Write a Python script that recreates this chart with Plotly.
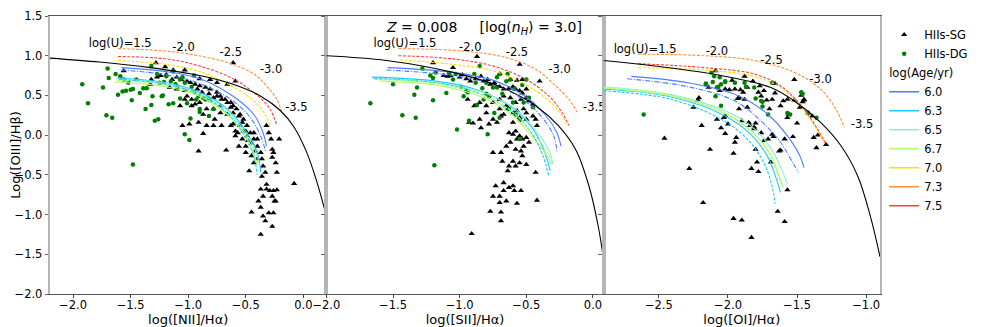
import plotly.graph_objects as go
from plotly.subplots import make_subplots

##################
### data

# panel axes
xTitles = ["log([NII]/Hα)", "log([SII]/Hα)", "log([OI]/Hα)"]
xRanges = [[-2.2, 0.2], [-2.0, 0.08], [-2.9, -0.9]]
yRange = [-2.0, 1.5]

# legend entries
ages = ["6.0", "6.3", "6.5", "6.7", "7.0", "7.3", "7.5"]
uLabels = ["log(U)=1.5", "-2.0", "-2.5", "-3.0", "-3.5"]

# ionisation parameter label positions
uNII_x = [-1.59, -1.04, -0.63, -0.28, -0.06]
uNII_y = [1.15, 1.10, 1.03, 0.82, 0.34]
uSII_x = [-1.41, -0.92, -0.57, -0.25, 0.01]
uSII_y = [1.15, 1.10, 1.03, 0.82, 0.34]
uOI_x = [-2.60, -2.08, -1.685, -1.33, -1.03]
uOI_y = [1.07, 1.04, 0.93, 0.69, 0.13]

# maximum starburst lines
kewNII_x = [-2.2, -1.77, -1.33, -0.90, -0.61, -0.37, -0.20, -0.08, 0.03, 0.12, 0.2]
kewNII_y = [0.97, 0.92, 0.85, 0.75, 0.64, 0.49, 0.31, 0.10, -0.22, -0.60, -1.02]
kewSII_x = [-2.0, -1.55, -1.05, -0.68, -0.43, -0.26, -0.13, -0.03, 0.04, 0.08]
kewSII_y = [1.0, 0.94, 0.79, 0.60, 0.37, 0.12, -0.18, -0.64, -1.15, -1.57]
kewOI_x = [-2.9, -2.53, -2.05, -1.69, -1.52, -1.33, -1.18, -1.06, -0.97, -0.9]
kewOI_y = [0.94, 0.87, 0.75, 0.60, 0.43, 0.16, -0.14, -0.52, -1.02, -1.53]

# model tracks (solid) per age
trkNII_solid = {
    "6.0": ([-1.58, -1.19, -0.90, -0.61, -0.43, -0.35, -0.32], [0.85, 0.80, 0.71, 0.49, 0.26, 0.03, -0.14]),
    "6.3": ([-1.62, -1.19, -0.90, -0.66, -0.49, -0.40, -0.37], [0.72, 0.66, 0.54, 0.33, 0.03, -0.22, -0.47]),
    "6.5": ([-1.61, -1.19, -0.90, -0.66, -0.50, -0.41, -0.38], [0.70, 0.65, 0.52, 0.31, 0.02, -0.22, -0.40]),
    "6.7": ([-1.64, -1.19, -0.90, -0.66, -0.50, -0.43, -0.40], [0.67, 0.61, 0.49, 0.26, -0.01, -0.22, -0.37]),
}
# model tracks (dashed) per age
trkNII_dash = {
    "6.0": ([-1.58, -1.19, -0.90, -0.61, -0.45, -0.36, -0.33], [0.82, 0.76, 0.65, 0.43, 0.20, -0.05, -0.20]),
    "6.3": ([-1.60, -1.19, -0.90, -0.67, -0.51, -0.43, -0.40], [0.70, 0.64, 0.51, 0.29, -0.01, -0.27, -0.50]),
    "6.7": ([-1.62, -1.19, -0.90, -0.67, -0.51, -0.44, -0.41], [0.69, 0.63, 0.50, 0.28, 0.00, -0.20, -0.35]),
    "7.0": ([-1.61, -1.19, -0.90, -0.61, -0.43, -0.33, -0.29], [0.94, 0.89, 0.80, 0.61, 0.43, 0.26, 0.11]),
    "7.3": ([-1.61, -1.13, -0.78, -0.61, -0.43, -0.32, -0.23, -0.19], [1.09, 1.05, 0.96, 0.89, 0.77, 0.62, 0.45, 0.30]),
    "7.5": ([-1.61, -1.19, -0.90, -0.61, -0.40, -0.29, -0.23], [0.99, 0.96, 0.87, 0.71, 0.50, 0.33, 0.12]),
}
trkSII_solid = {
    "6.0": ([-1.54, -1.05, -0.73, -0.51, -0.36, -0.27, -0.24], [0.85, 0.79, 0.68, 0.49, 0.26, 0.03, -0.14]),
    "6.3": ([-1.66, -1.18, -0.85, -0.61, -0.46, -0.37, -0.32], [0.73, 0.68, 0.56, 0.35, 0.10, -0.18, -0.45]),
    "6.5": ([-1.65, -1.18, -0.83, -0.58, -0.43, -0.33, -0.30], [0.71, 0.66, 0.54, 0.33, 0.06, -0.19, -0.37]),
    "6.7": ([-1.60, -1.18, -0.85, -0.61, -0.46, -0.36, -0.31], [0.68, 0.63, 0.49, 0.26, -0.01, -0.22, -0.37]),
}
trkSII_dash = {
    "6.0": ([-1.55, -1.05, -0.73, -0.51, -0.37, -0.29, -0.27], [0.82, 0.75, 0.63, 0.43, 0.20, -0.03, -0.22]),
    "6.3": ([-1.64, -1.18, -0.86, -0.62, -0.47, -0.38, -0.33], [0.71, 0.66, 0.53, 0.31, 0.05, -0.24, -0.52]),
    "6.7": ([-1.58, -1.18, -0.84, -0.60, -0.45, -0.35, -0.31], [0.70, 0.65, 0.51, 0.29, 0.02, -0.19, -0.33]),
    "7.0": ([-1.45, -1.05, -0.75, -0.51, -0.33, -0.23, -0.19], [0.95, 0.89, 0.81, 0.64, 0.43, 0.24, 0.12]),
    "7.3": ([-1.46, -0.98, -0.66, -0.43, -0.28, -0.18, -0.12], [1.09, 1.06, 0.98, 0.83, 0.62, 0.45, 0.29]),
    "7.5": ([-1.46, -1.05, -0.75, -0.51, -0.33, -0.23, -0.18], [1.00, 0.96, 0.87, 0.71, 0.49, 0.28, 0.12]),
}
trkOI_solid = {
    "6.0": ([-2.70, -2.29, -1.93, -1.71, -1.57, -1.48, -1.45], [0.74, 0.66, 0.50, 0.26, -0.01, -0.26, -0.41]),
    "6.3": ([-2.90, -2.41, -2.03, -1.83, -1.71, -1.65, -1.62], [0.58, 0.48, 0.25, 0.00, -0.28, -0.55, -0.72]),
    "6.5": ([-2.90, -2.41, -2.00, -1.79, -1.67, -1.60, -1.57], [0.61, 0.51, 0.29, 0.05, -0.22, -0.48, -0.62]),
    "6.7": ([-2.90, -2.41, -2.02, -1.81, -1.69, -1.63, -1.60], [0.59, 0.49, 0.27, 0.02, -0.25, -0.52, -0.66]),
}
trkOI_dash = {
    "6.0": ([-2.73, -2.29, -1.95, -1.75, -1.62, -1.53, -1.49], [0.71, 0.61, 0.43, 0.16, -0.09, -0.35, -0.47]),
    "6.3": ([-2.90, -2.41, -2.05, -1.86, -1.74, -1.68, -1.66], [0.56, 0.45, 0.20, -0.05, -0.35, -0.65, -0.86]),
    "6.7": ([-2.90, -2.41, -2.02, -1.82, -1.70, -1.64, -1.61], [0.60, 0.50, 0.28, 0.03, -0.24, -0.50, -0.64]),
    "7.0": ([-2.65, -2.17, -1.81, -1.62, -1.47, -1.36, -1.30], [0.85, 0.82, 0.74, 0.60, 0.36, 0.08, -0.10]),
    "7.3": ([-2.65, -2.17, -1.81, -1.52, -1.33, -1.22, -1.16], [1.02, 1.00, 0.94, 0.79, 0.58, 0.33, 0.10]),
    "7.5": ([-2.65, -2.17, -1.81, -1.62, -1.47, -1.35, -1.29], [0.90, 0.85, 0.77, 0.62, 0.37, 0.07, -0.12]),
}

# HII regions in spiral galaxies (SG) and dwarf galaxies (DG)
sgNII_x = [-1.56, -1.28, -1.20, -1.13, -1.03, -0.61, -0.59, -1.32, -1.27, -1.24, -1.19, -1.14, -1.10, -1.06,
           -1.01, -0.98, -0.94, -0.90, -0.85, -0.81, -0.75, -0.72, -0.68, -0.63, -0.61, -0.58, -0.55, -0.52,
           -0.49, -0.46, -0.43, -0.40, -0.37, -0.36, -0.35, -0.33, -1.05, -0.99, -0.91, -0.87, -0.84, -0.78,
           -0.91, -0.67, -0.61, -0.57, -0.53, -0.50, -0.47, -0.45, -0.40, -0.32, -0.30, -0.28, -0.27, -0.26,
           -0.24, -0.23, -0.21, -0.36, -0.32, -0.37, -0.35, -0.32, -0.29, -0.27, -0.26, -0.24, -0.23, -0.30,
           -0.26, -0.35, -0.33, -0.37, -0.45, -0.39, -0.37, -0.27, -0.25, -0.08, -0.27, -0.45, -0.59, -0.66,
           -0.72, -0.78, -0.84, -0.94, -0.97, -1.03, -0.97, -0.87, -0.77, -0.71, -0.63, -0.50, -0.43, -0.59,
           -0.56, -1.33, -1.16, -1.10, -1.03, -0.92, -0.88, -0.82, -0.78, -0.75, -0.71, -0.66, -0.63, -0.56,
           -0.49, -0.42, -0.52, -0.48, -0.72, -0.61, -0.53, -0.90, -1.01, -1.07, -0.81, -0.75, -0.66, -0.90,
           -0.43, -0.40, -0.55, -0.50]
sgNII_y = [0.81, 0.91, 0.86, 0.82, 0.82, 0.91, 0.68, 0.70, 0.73, 0.75, 0.76, 0.70, 0.73, 0.70,
           0.68, 0.66, 0.64, 0.62, 0.60, 0.58, 0.54, 0.49, 0.45, 0.41, 0.37, 0.33, 0.26, 0.20,
           0.12, 0.03, -0.05, -0.14, -0.22, -0.30, -0.39, -0.47, 0.12, 0.14, 0.16, 0.02, 0.12, 0.12,
           -0.20, -0.19, 0.14, 0.03, -0.05, -0.14, -0.45, -0.26, -0.30, 0.12, 0.03, -0.05, -0.28, -0.22,
           -0.35, -0.47, -0.05, -0.52, -0.62, -0.68, -0.77, -0.68, -0.70, -0.77, -0.70, -0.83, -0.69, -0.98,
           -0.98, -1.02, -1.08, -0.91, -0.97, -0.83, -1.25, -1.15, -0.83, -0.61, -0.18, -0.10, 0.05, 0.26,
           0.28, 0.33, 0.33, 0.39, 0.45, 0.45, 0.37, 0.26, 0.20, 0.12, 0.12, -0.22, -0.35, -0.01,
           -0.14, 0.64, 0.60, 0.58, 0.56, 0.58, 0.54, 0.52, 0.47, 0.49, 0.45, 0.41, 0.35, 0.24,
           -0.01, -0.20, 0.05, -0.07, 0.37, 0.28, 0.16, 0.41, 0.49, 0.37, 0.70, 0.66, 0.64, 0.71,
           0.03, -0.05, 0.12, 0.05]
dgNII_x = [-1.92, -1.87, -1.70, -1.74, -1.69, -1.71, -1.66, -1.61, -1.63, -1.59, -1.56, -1.57, -1.54, -1.50,
           -1.52, -1.49, -1.48, -1.45, -1.42, -1.39, -1.37, -1.36, -1.32, -1.31, -1.29, -1.26, -1.25, -1.23,
           -1.22, -1.21, -1.19, -1.17, -1.15, -1.13, -1.11, -1.09, -1.07, -1.05, -1.03, -0.99, -0.98, -0.97,
           -0.95, -0.93, -0.91, -0.90, -0.87, -0.85, -0.83, -0.81, -1.48, -1.32, -1.27, -1.13, -1.07, -1.01,
           -0.78, -0.90, -0.82, -0.95, -1.03]
dgNII_y = [0.64, 0.40, 0.84, 0.60, 0.72, 0.25, 0.22, 0.51, 0.77, 0.74, 0.70, 0.55, 0.56, 0.57,
           0.66, 0.44, 0.58, 0.70, 0.53, 0.59, 0.33, 0.59, 0.38, 0.49, 0.18, 0.20, 0.66, 0.49,
           0.50, 0.67, 0.74, 0.39, 0.68, 0.40, 0.64, 0.61, 0.70, 0.73, 0.01, -0.06, 0.21, 0.61,
           0.54, 0.45, 0.49, 0.29, 0.47, 0.45, 0.46, 0.44, -0.37, 0.87, 0.77, 0.80, 0.46, 0.40,
           0.33, 0.33, 0.24, 0.75, 0.66]

sgSII_x = [-1.20, -1.05, -0.87, -0.55, -0.40, -1.12, -1.09, -1.07, -1.00, -0.98, -0.95, -0.92, -0.88, -0.84,
           -0.82, -0.79, -0.77, -0.74, -0.70, -0.67, -0.63, -0.60, -0.58, -0.55, -0.53, -0.50, -0.48, -0.54,
           -0.58, -0.62, -0.67, -0.70, -0.75, -0.80, -0.85, -0.89, -0.94, -0.93, -0.90, -0.84, -0.80, -0.75,
           -0.72, -0.69, -0.67, -0.64, -0.60, -0.57, -0.52, -0.50, -0.45, -0.42, -0.63, -0.60, -0.58, -0.55,
           -0.53, -0.50, -0.62, -0.58, -0.54, -0.65, -0.69, -0.53, -0.50, -0.55, -0.60, -0.63, -0.68, -0.75,
           -0.64, -0.58, -0.43, -0.73, -0.67, -0.63, -0.59, -0.54, -0.60, -0.67, -0.70, -0.75, -0.70, -0.65,
           -0.57, -0.42, -0.77, -0.69, -0.69, -0.91, -0.70, -0.62, -0.57, -0.53, -0.50, -0.45, -0.43, -0.55,
           -0.70, -0.85, -0.60, -0.78, -0.65, -0.50, -0.57, -0.48, -0.52]
sgSII_y = [0.91, 0.85, 0.99, 0.89, 0.68, 0.75, 0.74, 0.75, 0.73, 0.76, 0.71, 0.68, 0.71, 0.74,
           0.68, 0.70, 0.64, 0.66, 0.61, 0.58, 0.59, 0.61, 0.58, 0.56, 0.53, 0.47, 0.43, 0.45,
           0.41, 0.47, 0.49, 0.45, 0.41, 0.37, 0.41, 0.37, 0.45, 0.16, 0.15, 0.09, 0.28, 0.20,
           0.16, 0.24, 0.26, 0.33, 0.28, 0.31, 0.33, 0.28, 0.24, 0.12, 0.03, 0.01, 0.05, -0.01,
           -0.05, -0.03, -0.09, -0.18, -0.20, -0.14, -0.22, -0.26, -0.37, -0.35, -0.33, -0.39, -0.33, -0.22,
           -0.45, -0.39, -0.47, -0.64, -0.60, -0.66, -0.70, -0.70, -0.64, -0.70, -0.77, -0.77, -0.85, -0.83,
           -0.86, -0.82, -0.96, -0.97, -1.08, -1.24, 0.77, 0.70, 0.69, 0.70, 0.58, 0.39, 0.20, 0.22,
           0.33, 0.20, 0.16, 0.14, 0.37, 0.20, -0.05, -0.09, -0.14]
dgSII_x = [-1.67, -1.50, -1.43, -1.33, -1.34, -1.32, -1.28, -1.20, -1.20, -1.22, -1.18, -1.10, -1.02, -1.19,
           -1.05, -1.03, -0.99, -0.97, -0.95, -0.93, -0.89, -0.88, -0.87, -0.85, -0.83, -0.82, -0.80, -0.79,
           -0.78, -0.75, -0.74, -0.72, -0.72, -0.70, -0.68, -0.65, -0.64, -0.63, -0.60, -0.59, -0.58, -0.55,
           -0.55, -0.53, -0.52, -0.50, -0.48, -0.45, -0.80, -0.94, -1.08, -0.70, -0.62]
dgSII_y = [0.40, 0.64, 0.25, 0.22, 0.51, 0.60, 0.84, 0.44, 0.72, 0.75, 0.79, 0.53, 0.07, -0.38,
           0.70, 0.77, 0.61, 0.49, 0.56, 0.18, 0.77, 0.66, 0.38, 0.87, 0.59, 0.45, 0.66, 0.01,
           0.49, 0.60, 0.28, 0.73, 0.60, 0.22, 0.52, 0.68, 0.77, 0.33, 0.41, 0.58, 0.26, -0.05,
           0.19, 0.63, 0.41, 0.70, 0.47, 0.35, 0.52, 0.54, 0.78, 0.77, 0.70]

sgOI_x = [-2.46, -2.28, -2.18, -2.13, -2.21, -2.22, -2.19, -2.25, -2.09, -2.06, -2.08, -2.05, -2.03, -2.02,
          -2.02, -2.00, -1.99, -1.97, -1.95, -1.96, -1.96, -1.94, -1.93, -1.92, -1.92, -1.91, -1.90, -1.90,
          -1.89, -1.88, -1.86, -1.85, -1.84, -1.83, -1.83, -1.82, -1.81, -1.81, -1.80, -1.80, -1.79, -1.78,
          -1.78, -1.77, -1.76, -1.72, -1.70, -1.69, -1.68, -1.67, -1.66, -1.66, -1.63, -1.62, -1.62, -1.64,
          -1.59, -1.57, -1.57, -1.56, -1.53, -1.52, -1.52, -1.50, -1.48, -1.47, -1.46, -1.45, -1.45, -1.42,
          -1.39, -1.38, -1.36, -1.35, -1.29, -1.74, -1.71, -1.68, -1.59, -1.95, -2.02, -2.14, -1.86, -1.74,
          -1.60, -1.57, -1.88, -1.76]
sgOI_y = [-0.04, -0.42, -0.85, -0.18, 0.47, 0.44, 0.12, 0.35, 0.81, 0.56, 0.20, 0.09, 0.22, 0.24,
          0.02, 0.14, 0.57, 0.69, -0.09, -0.23, -1.05, -0.03, 0.46, 0.33, 0.47, 0.57, -1.07, 0.18,
          0.54, 0.45, 0.35, 0.16, 0.12, -1.29, -0.42, 0.68, 0.10, 0.08, 0.15, -0.18, -0.34, -0.46,
          0.54, 0.62, 0.03, 0.44, 0.33, -0.34, 0.45, -0.02, 0.65, 0.53, -0.20, -0.19, 0.37, -0.96,
          -1.09, -0.69, 0.22, 0.26, -0.02, 0.70, 0.44, 0.15, 0.35, 0.50, 0.42, 0.44, 0.45, 0.28,
          0.24, -0.03, -0.16, 0.00, -0.12, -0.07, -0.05, 0.01, -0.05, 0.58, 0.58, 0.60, 0.60, 0.56,
          0.43, 0.45, 0.74, 0.49]
dgOI_x = [-2.61, -2.16, -2.16, -2.11, -2.08, -2.07, -2.05, -2.02, -2.10, -2.06, -2.02, -1.95, -2.09, -2.05,
          -1.81, -1.80, -1.76, -1.75, -1.75, -1.71, -1.68, -1.57, -1.55, -1.46, -1.42, -1.36, -1.47, -1.87,
          -1.88, -2.12]
dgOI_y = [0.26, 0.65, 0.64, 0.67, 0.60, 0.61, 0.64, 0.67, 0.74, 0.73, 0.68, 0.66, 0.49, 0.37,
          0.60, 0.46, 0.43, 0.36, 0.42, 0.26, 0.66, 0.28, 0.26, 0.52, 0.28, 0.22, 0.54, 0.61,
          0.66, 0.79]

##################
### styles
ageColors = {"6.0": "#4a7dff", "6.3": "#1ec8ff", "6.5": "#86f5cc", "6.7": "#b4f870",
             "7.0": "#ffe000", "7.3": "#ff8f3a", "7.5": "#ff4040"}
dashStyles = {"6.0": "5px,1.5px,1px,1.5px"}
fnt = "DejaVu Sans"

panels = [
    (kewNII_x, kewNII_y, trkNII_solid, trkNII_dash, sgNII_x, sgNII_y, dgNII_x, dgNII_y, uNII_x, uNII_y),
    (kewSII_x, kewSII_y, trkSII_solid, trkSII_dash, sgSII_x, sgSII_y, dgSII_x, dgSII_y, uSII_x, uSII_y),
    (kewOI_x, kewOI_y, trkOI_solid, trkOI_dash, sgOI_x, sgOI_y, dgOI_x, dgOI_y, uOI_x, uOI_y),
]

fig = make_subplots(rows=1, cols=3, horizontal_spacing=0)

for i, p in enumerate(panels):
    kx, ky, trkSolid, trkDash, sx, sy, dx, dy, ux, uy = p
    col = i + 1
    # observed HII regions
    fig.add_trace(go.Scatter(x=sx, y=sy, mode="markers", name="HIIs-SG",
                             marker=dict(symbol="triangle-up", color="black", size=5.5),
                             showlegend=(i == 0), legendrank=1), row=1, col=col)
    fig.add_trace(go.Scatter(x=dx, y=dy, mode="markers", name="HIIs-DG",
                             marker=dict(symbol="circle", color="green", size=4.5),
                             showlegend=(i == 0), legendrank=2), row=1, col=col)
    # model tracks
    for age, (tx, ty) in trkSolid.items():
        fig.add_trace(go.Scatter(x=tx, y=ty, mode="lines", line_shape="spline",
                                 line=dict(color=ageColors[age], width=1.1),
                                 showlegend=False, hoverinfo="skip"), row=1, col=col)
    for age, (tx, ty) in trkDash.items():
        fig.add_trace(go.Scatter(x=tx, y=ty, mode="lines", line_shape="spline",
                                 line=dict(color=ageColors[age], width=1.1,
                                           dash=dashStyles.get(age, "3px,1.5px")),
                                 showlegend=False, hoverinfo="skip"), row=1, col=col)
    # Kewley line
    fig.add_trace(go.Scatter(x=kx, y=ky, mode="lines", line_shape="spline",
                             line=dict(color="black", width=1.1),
                             showlegend=False, hoverinfo="skip"), row=1, col=col)
    # log(U) labels
    fig.add_trace(go.Scatter(x=ux, y=uy, mode="text", text=uLabels,
                             textfont=dict(family=fnt, size=11.5, color="black"),
                             showlegend=False, hoverinfo="skip"), row=1, col=col)

# age legend entries
for age in ages:
    fig.add_trace(go.Scatter(x=[None], y=[None], mode="lines", name=age,
                             line=dict(color=ageColors[age], width=1.5),
                             legendgroup="age", legendgrouptitle_text="log(Age/yr)",
                             legendrank=3), row=1, col=1)

# axes
domains = [[0.0, 0.333], [0.333, 0.667], [0.667, 1.0]]
for i in range(3):
    fig.update_xaxes(range=xRanges[i], domain=domains[i], dtick=0.5, tick0=0, tickformat=".1f",
                     showgrid=False, zeroline=False, ticks="outside", ticklen=3,
                     tickcolor="#444", showline=True, linecolor="#555", linewidth=1, mirror=True,
                     ticklabelstandoff=-3,
                     tickfont=dict(family=fnt, size=11.5, color="black"),
                     title=dict(text=xTitles[i], font=dict(family=fnt, size=13, color="black"),
                                standoff=0),
                     automargin=False, row=1, col=i + 1)
    fig.update_yaxes(range=yRange, dtick=0.5, tick0=0, tickformat=".1f",
                     showgrid=False, zeroline=False, ticks="outside", ticklen=3.5,
                     tickcolor="#666", showline=True, linecolor="#b5b5b5", linewidth=1.5, mirror=True,
                     showticklabels=(i == 0),
                     tickfont=dict(family=fnt, size=11.5, color="black"),
                     automargin=False, row=1, col=i + 1)
fig.update_yaxes(title=dict(text="Log([OIII]/Hβ)", font=dict(family=fnt, size=13, color="black"),
                            standoff=6), row=1, col=1)

# panel title
fig.add_annotation(text="<i>Z</i> = 0.008     [log(<i>n<sub>H</sub></i>) = 3.0]",
                   xref="paper", yref="paper", x=0.523, y=0.957,
                   xanchor="center", yanchor="middle", showarrow=False,
                   font=dict(family=fnt, size=14, color="black"))

# page body adds an 8px offset, so the figure is 8px smaller than the window
fig.update_layout(
    width=973, height=319,
    margin=dict(l=42, r=99, t=8, b=33),
    plot_bgcolor="white", paper_bgcolor="white",
    font=dict(family=fnt, color="black"),
    legend=dict(x=1.005, y=0.985, xanchor="left", yanchor="top",
                font=dict(family=fnt, size=11.5, color="black"),
                grouptitlefont=dict(family=fnt, size=11.5, color="black"),
                tracegroupgap=0, itemwidth=30, bgcolor="rgba(0,0,0,0)"),
)

fig.write_html("out.html")
